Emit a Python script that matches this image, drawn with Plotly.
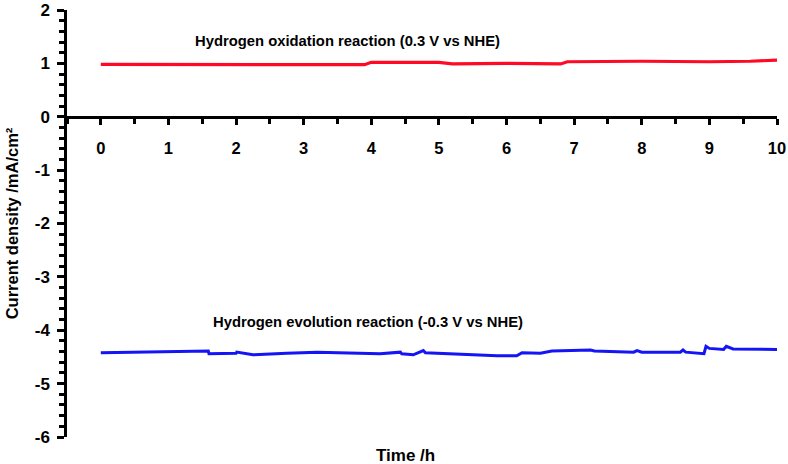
import plotly.graph_objects as go

# Hydrogen oxidation reaction (0.3 V vs NHE), time in h, current density in mA/cm2
hor_time = [0, 1.0, 2.2, 3.9, 4.0, 5.0, 5.2, 6.0, 6.8, 6.9, 8.0, 9.0, 9.6, 10]
hor_current = [0.98, 0.98, 0.97, 0.975, 1.02, 1.02, 0.99, 1.0, 0.99, 1.03, 1.04, 1.03, 1.04, 1.06]

# Hydrogen evolution reaction (-0.3 V vs NHE)
her_time = [0, 1.59, 1.6, 2.0, 2.01, 2.25, 2.75, 3.2, 4.13, 4.43, 4.45, 4.62,
            4.77, 4.8, 5.86, 6.15, 6.23, 6.5, 6.67, 7.24, 7.3, 7.88, 7.93, 8.0,
            8.57, 8.61, 8.65, 8.92, 8.95, 9.0, 9.21, 9.25, 9.35, 10]
her_current = [-4.42, -4.39, -4.44, -4.43, -4.41, -4.46, -4.43, -4.41, -4.44, -4.41, -4.44, -4.46,
               -4.38, -4.42, -4.48, -4.48, -4.42, -4.43, -4.39, -4.37, -4.39, -4.41, -4.38, -4.41,
               -4.41, -4.37, -4.41, -4.44, -4.30, -4.34, -4.36, -4.30, -4.35, -4.36]

x_ticks = list(range(0, 11))
y_ticks = list(range(-6, 3))

FONT = "Arial, Liberation Sans, sans-serif"

fig = go.Figure()
fig.add_trace(go.Scatter(x=hor_time, y=hor_current, mode="lines",
                         line=dict(color="#ff0a24", width=3.2)))
fig.add_trace(go.Scatter(x=her_time, y=her_current, mode="lines",
                         line=dict(color="#1414f5", width=3)))

fig.add_annotation(x=1.37, y=1.42, xref="x", yref="y", xanchor="left", yanchor="middle",
                   text="<b>Hydrogen oxidation reaction (0.3 V vs NHE)</b>", showarrow=False,
                   font=dict(size=14.8, color="black", family=FONT))
fig.add_annotation(x=1.63, y=-3.85, xref="x", yref="y", xanchor="left", yanchor="middle",
                   text="<b>Hydrogen evolution reaction (-0.3 V vs NHE)</b>", showarrow=False,
                   font=dict(size=14.8, color="black", family=FONT))
fig.add_annotation(x=4.5, y=-0.043, xref="x", yref="paper", xanchor="center", yanchor="middle",
                   text="<b>Time /h</b>", showarrow=False,
                   font=dict(size=17, color="black", family=FONT))

fig.update_layout(
    width=788, height=464,
    margin=dict(l=67, r=11, t=10, b=27),
    paper_bgcolor="white", plot_bgcolor="white",
    showlegend=False,
    font=dict(family=FONT, color="black"),
    xaxis=dict(
        range=[-0.5, 10], anchor="free", position=0.75, automargin=False,
        showline=True, linecolor="black", linewidth=2.5,
        showgrid=False, zeroline=False,
        tickmode="array", tickvals=x_ticks, ticktext=[f"<b>{t}</b>" for t in x_ticks],
        ticks="outside", ticklen=6, tickwidth=2.5, tickcolor="black",
        ticklabelstandoff=10,
        tickfont=dict(size=16.5, color="black", family=FONT),
        minor=dict(dtick=0.5, ticks="outside", ticklen=5, tickwidth=2.5, tickcolor="black"),
    ),
    yaxis=dict(
        range=[-6, 2], domain=[0, 1], automargin=False,
        showline=True, linecolor="black", linewidth=2.5,
        showgrid=False, zeroline=False,
        tickmode="array", tickvals=y_ticks, ticktext=[f"<b>{t}</b>" for t in y_ticks],
        ticks="outside", ticklen=7, tickwidth=2.5, tickcolor="black",
        ticklabelstandoff=4,
        tickfont=dict(size=17, color="black", family=FONT),
        minor=dict(dtick=0.2, ticks="outside", ticklen=5, tickwidth=2.5, tickcolor="black"),
        title=dict(text="<b>Current density /mA/cm²</b>", standoff=12,
                   font=dict(size=16.5, color="black", family=FONT)),
    ),
)

# the page's default body margin would shift the fixed-size figure
fig.write_html("out.html", config={"displayModeBar": False},
               post_script="document.body.style.margin='0';")
